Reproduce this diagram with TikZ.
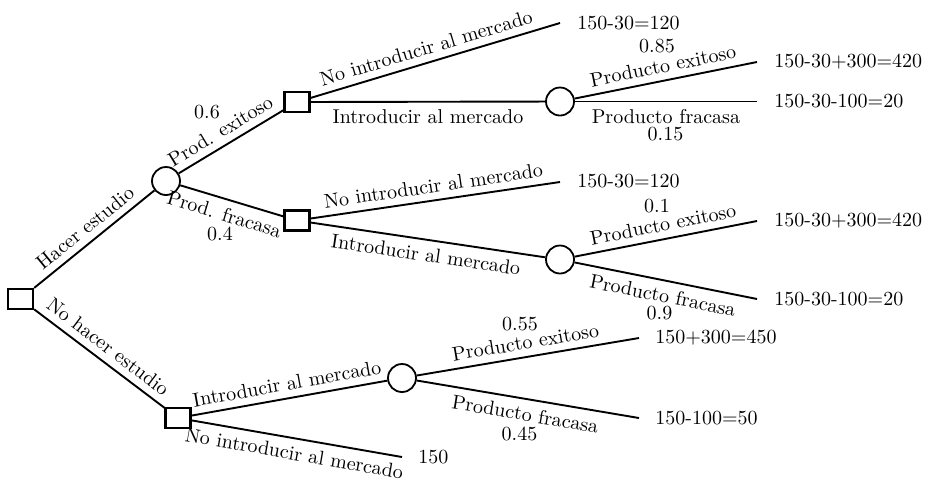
\documentclass[tikz,border=0pt]{standalone}
\begin{document}
\begin{tikzpicture}[x=0.5pt,y=-0.5pt,
  dec/.style={draw,line width=1.2pt,minimum width=12.5pt,minimum height=10pt,inner sep=0pt,fill=white},
  chance/.style={draw,circle,line width=0.9pt,minimum size=14pt,inner sep=0pt,fill=white},
  edge/.style={line width=0.95pt},
  lab/.style={sloped,inner sep=3.4pt},
  prob/.style={inner sep=0pt},
  val/.style={anchor=west,inner sep=0pt}]
\useasboundingbox (0,0) rectangle (929,484);
% decision and chance nodes
\node[dec] (root) at (20.5,299) {};
\node[chance] (ch1) at (166,181) {};
\node[dec] (dA) at (297,102) {};
\node[dec] (dB) at (297,220.5) {};
\node[dec] (dC) at (178,418) {};
\node[chance] (chA) at (560,101.5) {};
\node[chance] (chB) at (560,259.5) {};
\node[chance] (chC) at (402,378) {};
% end points
\coordinate (eA1) at (560,23);
\coordinate (eA2) at (757,62);
\coordinate (eA3) at (757,101.5);
\coordinate (eB1) at (560,182);
\coordinate (eB2) at (757,221);
\coordinate (eB3) at (757,299);
\coordinate (eC1) at (402,457);
\coordinate (eC2) at (639,338);
\coordinate (eC3) at (639,418);
% edges
\draw[edge] (root) -- node[lab,above] (t1) {Hacer estudio} (ch1);
\draw[edge] (root) -- node[lab,above] (t2) {No hacer estudio} (dC);
\draw[edge] (ch1) -- node[lab,above,pos=0.47] (t3) {Prod. exitoso} (dA);
\draw[edge] (ch1) -- node[lab,below,pos=0.47] (t4) {Prod. fracasa} (dB);
\draw[edge] (dA) -- node[lab,above,pos=0.48] (t5) {No introducir al mercado} (eA1);
\draw[edge] (dA) -- node[lab,below] (t6) {Introducir al mercado} (chA);
\draw[edge] (chA) -- node[lab,above] (t7) {Producto exitoso} (eA2);
\draw[edge] (chA) -- node[lab,below] (t8) {Producto fracasa} (eA3);
\draw[edge] (dB) -- node[lab,above] (t9) {No introducir al mercado} (eB1);
\draw[edge] (dB) -- node[lab,below] (t10) {Introducir al mercado} (chB);
\draw[edge] (chB) -- node[lab,above] (t11) {Producto exitoso} (eB2);
\draw[edge] (chB) -- node[lab,below] (t12) {Producto fracasa} (eB3);
\draw[edge] (dC) -- node[lab,above] (t13) {Introducir al mercado} (chC);
\draw[edge] (dC) -- node[lab,below] (t14) {No introducir al mercado} (eC1);
\draw[edge] (chC) -- node[lab,above] (t15) {Producto exitoso} (eC2);
\draw[edge] (chC) -- node[lab,below] (t16) {Producto fracasa} (eC3);
% probabilities
\node[prob] (p1) at (207,112) {0.6};
\node[prob] (p2) at (220,234) {0.4};
\node[prob] (p3) at (657,46) {0.85};
\node[prob] (p4) at (665.5,134) {0.15};
\node[prob] (p5) at (657,206) {0.1};
\node[prob] (p6) at (659.5,313.5) {0.9};
\node[prob] (p7) at (520,324) {0.55};
\node[prob] (p8) at (519.5,433.5) {0.45};
% values
\node[val] (v1) at (577,23) {150-30=120};
\node[val] (v2) at (774,62) {150-30+300=420};
\node[val] (v3) at (774,101.5) {150-30-100=20};
\node[val] (v4) at (577,181) {150-30=120};
\node[val] (v5) at (774,221) {150-30+300=420};
\node[val] (v6) at (774,299) {150-30-100=20};
\node[val] (v7) at (418,457) {150};
\node[val] (v8) at (655,338) {150+300=450};
\node[val] (v9) at (655,418) {150-100=50};
\end{tikzpicture}
\end{document}
